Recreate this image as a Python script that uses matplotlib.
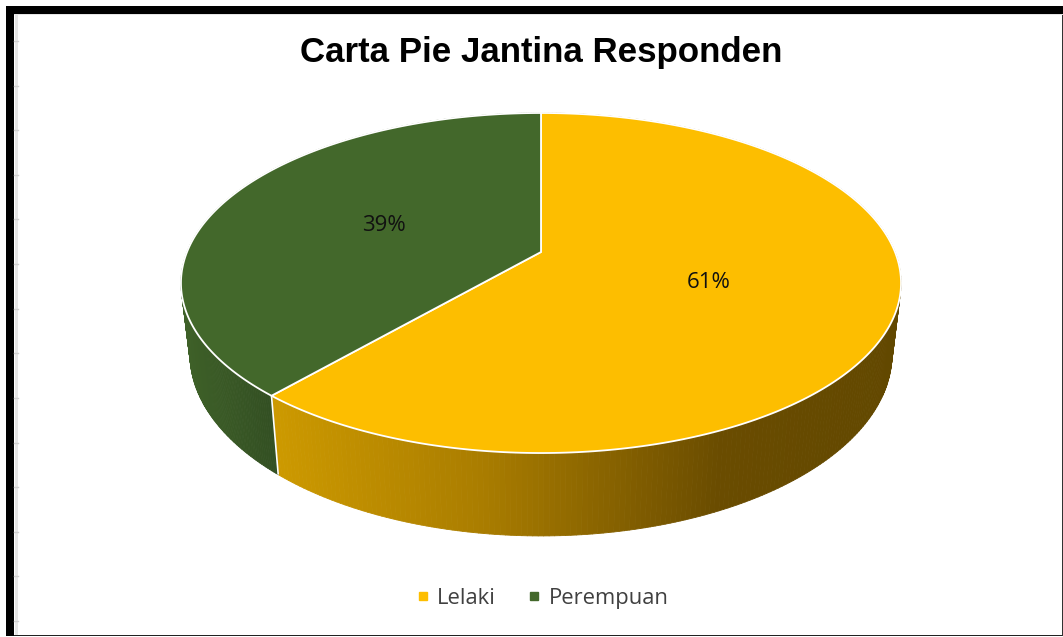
import numpy as np
import matplotlib
matplotlib.use("Agg")
import matplotlib.pyplot as plt
from matplotlib.collections import PolyCollection
from matplotlib.lines import Line2D
from matplotlib.patches import Polygon, Rectangle

# data
categories = ["Lelaki", "Perempuan"]
values = [61.4, 38.6]
title = "Carta Pie Jantina Responden"

# colours
top_colors = ["#FDBE00", "#43682B"]
# side gradient: x pixel -> rgb
side_x = [[277, 480, 720, 900], [183, 277]]
side_rgb = [
    [(204, 153, 0), (170, 125, 0), (106, 76, 0), (98, 72, 0)],
    [(62, 96, 40), (50, 78, 34)],
]

# pie geometry, in picture pixels
apex_x, apex_y = 541, 252
persp = 0.1824
span_x, span_y = 354, -118.4
rim_cy, bottom_cy = 283, 354
scale_x, scale_y = 0.975, 1.07


def project(t, r=1.0):
    # t in degrees clockwise from the top of the pie, perspective on the disc
    u = r * np.sin(np.radians(t))
    v = r * np.cos(np.radians(t))
    w = 1 + persp * v
    return apex_x + span_x * u / w, (span_y * v + apex_y) / w


def lower(x, y):
    return apex_x + (x - apex_x) * scale_x, bottom_cy + (y - rim_cy) * scale_y


fig = plt.figure(figsize=(10.63, 6.37), dpi=100)
ax = fig.add_axes([0, 0, 1, 1])
ax.set_xlim(0, 1063)
ax.set_ylim(637, 0)
ax.axis("off")

# worksheet frame around the chart
ax.add_patch(Rectangle((6, 6), 1057, 8, color="black", lw=0))
ax.add_patch(Rectangle((6, 6), 8, 630, color="black", lw=0))
ax.add_patch(Rectangle((14, 634.5), 1049, 1.5, color="#222222", lw=0))
ax.add_patch(Rectangle((1061.5, 14), 1.5, 622, color="#333333", lw=0))
ax.add_patch(Rectangle((15, 14), 3, 621, color="#E6E6E6", lw=0))
ax.add_patch(Rectangle((14, 14), 1049, 1, color="#E6E6E6", lw=0))
for tick_y in np.linspace(41, 621, 14):
    ax.plot([14, 18], [tick_y, tick_y], color="#D0D0D0", lw=1)

total = sum(values)
fracs = np.array(values) / total
edges = np.concatenate([[0], np.cumsum(fracs) * 360])

# sides first, the top faces cover the back of them
for i in range(len(values)):
    ts = np.linspace(edges[i], edges[i + 1], 300)
    xs, ys = project(ts)
    xb, yb = lower(xs, ys)
    quads = []
    cols = []
    for k in range(len(ts) - 1):
        quads.append([(xs[k], ys[k]), (xs[k + 1], ys[k + 1]), (xb[k + 1], yb[k + 1]), (xb[k], yb[k])])
        mx = (xs[k] + xs[k + 1]) / 2
        cols.append([np.interp(mx, side_x[i], [c[j] for c in side_rgb[i]]) / 255 for j in range(3)])
    ax.add_collection(PolyCollection(quads, facecolors=cols, edgecolors=cols, linewidths=0.6))

# white seam on the side between both slices
for t in edges[1:-1]:
    x0, y0 = project(t)
    x1, y1 = lower(x0, y0)
    ax.plot([x0, x1], [y0, y1], color="white", lw=1.2, solid_capstyle="butt")

# top faces
for i in range(len(values)):
    ts = np.linspace(edges[i], edges[i + 1], 300)
    xs, ys = project(ts)
    pts = np.column_stack([np.r_[apex_x, xs], np.r_[apex_y, ys]])
    ax.add_patch(Polygon(pts, closed=True, facecolor=top_colors[i], edgecolor="white", lw=1.3, joinstyle="round"))

# percent labels sit half way along each slice
for i in range(len(values)):
    mid = (edges[i] + edges[i + 1]) / 2
    lx, ly = project(mid, 0.49)
    ax.text(lx, ly + 1, f"{values[i] / total * 100:.0f}%", ha="center", va="center",
            fontsize=16, family="Open Sans", color="#111111")

ax.text(541, 52.5, title, ha="center", va="center", fontsize=25.1,
        family="Liberation Sans", fontweight="bold", color="black")

handles = [Line2D([], [], ls="", marker="s", ms=6, color=c) for c in top_colors]
ax.legend(handles, categories, ncol=2, loc="center", bbox_to_anchor=(540 / 1063, 1 - 598.5 / 637),
          frameon=False, prop={"family": "Open Sans", "size": 15.8}, labelcolor="#404040",
          handletextpad=0.17, columnspacing=1.22, handlelength=1.0)

fig.savefig("out.png", dpi=100)
